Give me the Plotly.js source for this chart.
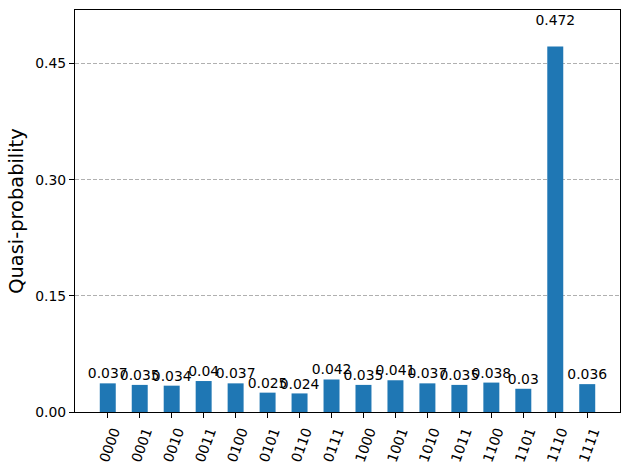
<!DOCTYPE html>
<html>
<head>
<meta charset="utf-8">
<script src="https://cdn.plot.ly/plotly-3.0.1.min.js"></script>
<style>html,body{margin:0;padding:0;background:#fff;}#chart{width:630px;height:470px;}</style>
</head>
<body>
<div id="chart"></div>
<script>
const categories = ["0000","0001","0010","0011","0100","0101","0110","0111","1000","1001","1010","1011","1100","1101","1110","1111"];
const values = [0.037,0.035,0.034,0.04,0.037,0.025,0.024,0.042,0.035,0.041,0.037,0.035,0.038,0.03,0.472,0.036];
const yTickVals = [0, 0.15, 0.30, 0.45];
const yTickText = ["0.00","0.15","0.30","0.45"];

const font = "DejaVu Sans, sans-serif";
const maxV = Math.max(...values);

const bars = {
  type: "bar",
  x: categories,
  y: values,
  width: 0.5,
  marker: {color: "#1f77b4", line: {width: 0}},
  hoverinfo: "x+y"
};
const labels = {
  type: "scatter",
  mode: "text",
  x: categories,
  y: values.map(v => v * 1.05),
  text: values.map(v => String(v)),
  textposition: "top center",
  textfont: {family: font, size: 13.9, color: "#000"},
  hoverinfo: "skip",
  cliponaxis: false
};

const layout = {
  width: 630, height: 470,
  margin: {l: 75, r: 10, t: 10, b: 58},
  paper_bgcolor: "#fff", plot_bgcolor: "#fff",
  showlegend: false,
  font: {family: font, size: 13.9, color: "#000"},
  xaxis: {
    type: "category",
    range: [-1.025, categories.length - 1 + 1.025],
    tickangle: -70,
    ticks: "outside", ticklen: 5, tickwidth: 1, tickcolor: "#000",
    showline: true, linecolor: "#000", linewidth: 1, mirror: true,
    showgrid: false, zeroline: false,
    tickfont: {family: font, size: 13.9, color: "#000"},
    ticklabelshift: 6
  },
  yaxis: {
    range: [0, maxV * 1.1],
    tickvals: yTickVals, ticktext: yTickText,
    ticks: "outside", ticklen: 5, tickwidth: 1, tickcolor: "#000",
    showline: true, linecolor: "#000", linewidth: 1, mirror: true,
    showgrid: true, gridcolor: "#b0b0b0", griddash: "4px,2px", gridwidth: 1,
    zeroline: false,
    tickfont: {family: font, size: 13.9, color: "#000"},
    title: {text: "Quasi-probability", font: {family: font, size: 19.4, color: "#000"}, standoff: 6}
  }
};

Plotly.newPlot("chart", [bars, labels], layout, {displayModeBar: false, staticPlot: true});
</script>
</body>
</html>
